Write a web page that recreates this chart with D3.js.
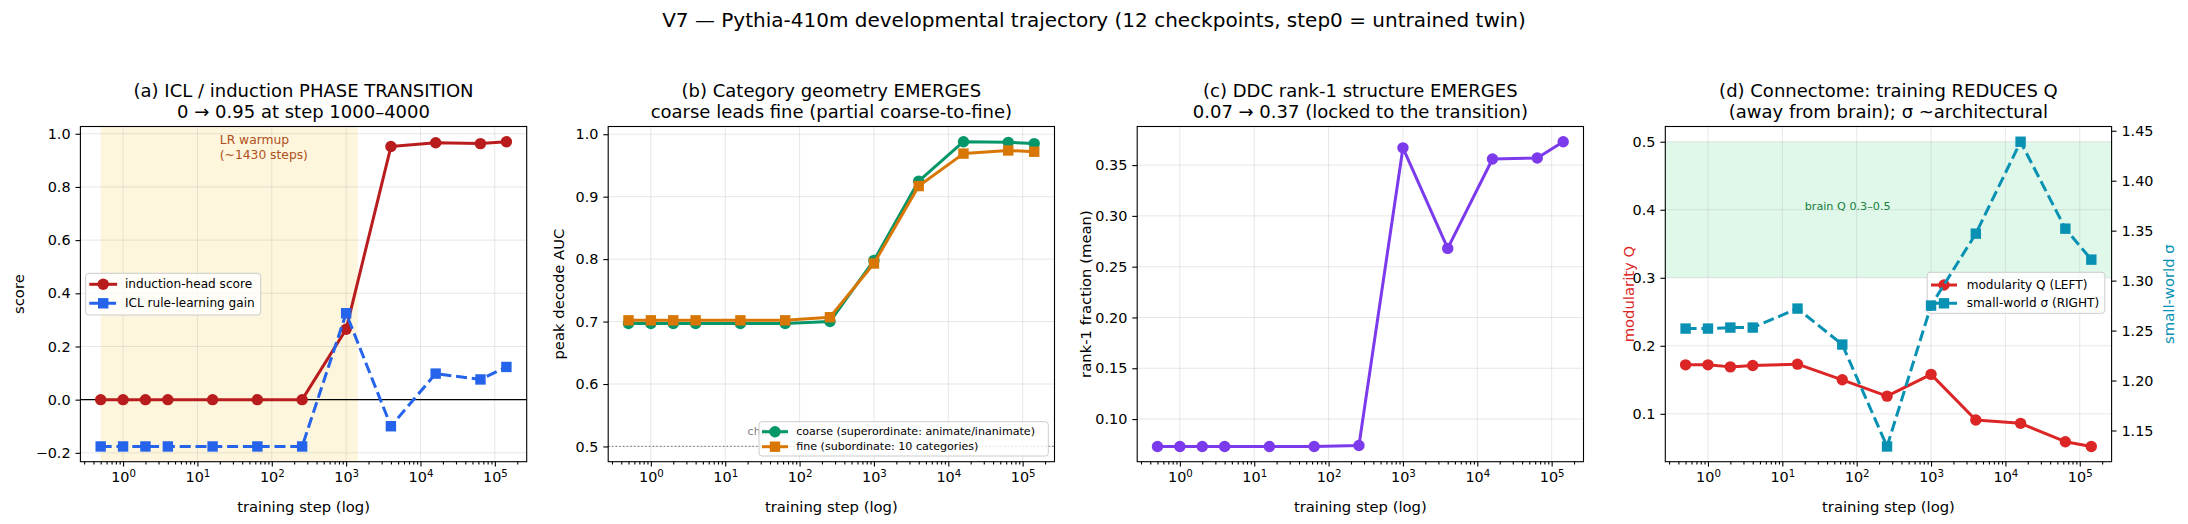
<!DOCTYPE html>
<html lang="en">
<head>
<meta charset="utf-8">
<title>Pythia-410m developmental trajectory</title>
<script src="https://d3js.org/d3.v7.min.js"></script>
<style>
  body { margin: 0; background: #fff; }
  svg text { font-family: "DejaVu Sans", sans-serif; fill: #000; }
  .axis path, .axis line { stroke: #000; stroke-width: 1.1; }
  .grid line { stroke: #b0b0b0; stroke-opacity: 0.3; stroke-width: 1; }
</style>
</head>
<body>
<div id="chart"></div>
<script>
// 12 checkpoints; step0 (untrained twin) plotted at 0.5 on the log axis
const steps = [0.5, 1, 2, 4, 16, 64, 256, 1000, 4000, 16000, 64000, 143000];

// (a) ICL / induction
const inductionScore = [0, 0, 0, 0, 0, 0, 0, 0.265, 0.952, 0.966, 0.963, 0.970];
const iclGain = [-0.176, -0.176, -0.176, -0.176, -0.176, -0.176, -0.176, 0.325, -0.100, 0.098, 0.076, 0.123];
const warmupSpan = [0.5, 1430];

// (b) category decoding
const coarseAUC = [0.697, 0.697, 0.697, 0.697, 0.697, 0.697, 0.700, 0.798, 0.925, 0.988, 0.987, 0.985];
const fineAUC = [0.702, 0.702, 0.702, 0.702, 0.702, 0.702, 0.707, 0.793, 0.917, 0.969, 0.974, 0.972];
const chanceAUC = 0.5;

// (c) DDC rank-1
const rank1Frac = [0.073, 0.073, 0.073, 0.073, 0.073, 0.073, 0.074, 0.367, 0.268, 0.356, 0.357, 0.373];

// (d) connectome
const modularityQ = [0.172, 0.172, 0.169, 0.171, 0.173, 0.150, 0.126, 0.158, 0.091, 0.086, 0.059, 0.052];
const smallWorld = [1.252, 1.252, 1.253, 1.253, 1.272, 1.236, 1.134, 1.275, 1.347, 1.439, 1.352, 1.321];
const brainQ = [0.3, 0.5];

const width = 2188, height = 524;
const plotTop = 126.5, plotBottom = 461.7, pw = 446.3;
const lefts = [80.4, 608.2, 1137.2, 1665.3];
const ylabelX = [18, 558, 1085, 1628];
const tickFs = "14.4px", labelFs = "14.8px", titleFs = "18px";

const svg = d3.select("#chart").append("svg")
    .attr("width", width)
    .attr("height", height);

svg.append("text")
    .attr("x", 1094).attr("y", 20)
    .attr("dominant-baseline", "central")
    .attr("text-anchor", "middle")
    .style("font-size", "20px")
    .text("V7 \u2014 Pythia-410m developmental trajectory (12 checkpoints, step0 = untrained twin)");

// matplotlib-like 5% margins
function padded(lo, hi) {
  const p = (hi - lo) * 0.05;
  return [lo - p, hi + p];
}
const lx = d3.extent(steps).map(Math.log10);
const xdom = padded(lx[0], lx[1]).map(v => Math.pow(10, v));

function makePanel(i, ydomain, yfmt, title1, title2, ylabel) {
  const left = lefts[i];
  const g = svg.append("g");
  const x = d3.scaleLog().domain(xdom).range([left, left + pw]);
  const y = d3.scaleLinear().domain(ydomain).range([plotBottom, plotTop]);

  const majors = d3.range(-1, 7).map(k => Math.pow(10, k)).filter(v => v >= xdom[0] && v <= xdom[1]);
  const minors = [];
  for (let k = -1; k <= 6; k++)
    for (let j = 2; j <= 9; j++) {
      const v = j * Math.pow(10, k);
      if (v >= xdom[0] && v <= xdom[1]) minors.push(v);
    }
  const yt = y.ticks(6);

  const back = g.append("g");

  // grid
  const grid = g.append("g").attr("class", "grid");
  grid.selectAll(".gx").data(majors).join("line")
      .attr("x1", d => x(d)).attr("x2", d => x(d))
      .attr("y1", plotTop).attr("y2", plotBottom);
  grid.selectAll(".gy").data(yt).join("line")
      .attr("x1", left).attr("x2", left + pw)
      .attr("y1", d => y(d)).attr("y2", d => y(d));

  const layer = g.append("g");

  function finish() {
    g.append("rect")
        .attr("x", left).attr("y", plotTop)
        .attr("width", pw).attr("height", plotBottom - plotTop)
        .attr("fill", "none").attr("stroke", "#000").attr("stroke-width", 1.1);

    const xa = g.append("g").attr("class", "axis")
        .attr("transform", `translate(0,${plotBottom})`)
        .call(d3.axisBottom(x).tickValues(majors).tickSize(4.9).tickSizeOuter(0).tickPadding(4.9));
    xa.select(".domain").remove();
    xa.selectAll(".tick text").text(null).style("font-size", tickFs)
      .each(function(d) {
        const t = d3.select(this);
        t.append("tspan").text("10");
        t.append("tspan").attr("dy", "-0.45em").style("font-size", "10.2px").text(Math.round(Math.log10(d)));
      });
    const xm = g.append("g").attr("class", "axis")
        .attr("transform", `translate(0,${plotBottom})`)
        .call(d3.axisBottom(x).tickValues(minors).tickSize(2.8).tickSizeOuter(0).tickFormat(""));
    xm.select(".domain").remove();
    xm.selectAll("line").attr("stroke-width", 0.8);

    const ya = g.append("g").attr("class", "axis")
        .attr("transform", `translate(${left},0)`)
        .call(d3.axisLeft(y).tickValues(yt).tickFormat(yfmt).tickSize(4.9).tickSizeOuter(0).tickPadding(4.9));
    ya.select(".domain").remove();
    ya.selectAll(".tick text").style("font-size", tickFs);

    g.append("text")
        .attr("x", left + pw / 2).attr("y", 506)
        .attr("text-anchor", "middle").attr("dominant-baseline", "central")
        .style("font-size", labelFs)
        .text("training step (log)");

    g.append("text")
        .attr("x", left + pw / 2).attr("y", 90)
        .attr("text-anchor", "middle").attr("dominant-baseline", "central")
        .style("font-size", titleFs).text(title1);
    g.append("text")
        .attr("x", left + pw / 2).attr("y", 111)
        .attr("text-anchor", "middle").attr("dominant-baseline", "central")
        .style("font-size", titleFs).text(title2);
  }

  const lab = g.append("text")
      .attr("transform", `translate(${ylabelX[i]},${(plotTop + plotBottom) / 2}) rotate(-90)`)
      .attr("text-anchor", "middle").attr("dominant-baseline", "central")
      .style("font-size", labelFs)
      .text(ylabel);

  return {g, back, layer, x, y, finish, lab};
}

function drawSeries(layer, x, y, vals, color, marker, dash) {
  const line = d3.line().x((d, i) => x(steps[i])).y(d => y(d));
  layer.append("path")
      .datum(vals)
      .attr("d", line)
      .attr("fill", "none")
      .attr("stroke", color)
      .attr("stroke-width", 3)
      .attr("stroke-dasharray", dash ? "11,4.8" : null)
      .attr("stroke-linejoin", "round");
  if (marker === "o") {
    layer.selectAll(null).data(vals).join("circle")
        .attr("cx", (d, i) => x(steps[i])).attr("cy", d => y(d))
        .attr("r", 5.7).attr("fill", color);
  } else {
    layer.selectAll(null).data(vals).join("rect")
        .attr("x", (d, i) => x(steps[i]) - 5.2).attr("y", d => y(d) - 5.2)
        .attr("width", 10.4).attr("height", 10.4).attr("fill", color);
  }
}

function legend(parent, bx, by, bw, bh, rows, fs, rowY, hx1, hx2, tx) {
  const lg = parent.append("g");
  lg.append("rect")
      .attr("x", bx).attr("y", by).attr("width", bw).attr("height", bh)
      .attr("rx", 3).attr("fill", "#fff").attr("fill-opacity", 0.8)
      .attr("stroke", "#cccccc").attr("stroke-width", 1);
  rows.forEach((r, i) => {
    const yy = rowY[i];
    lg.append("line")
        .attr("x1", hx1).attr("x2", hx2).attr("y1", yy).attr("y2", yy)
        .attr("stroke", r.color).attr("stroke-width", 3)
        .attr("stroke-dasharray", r.dash ? "11,4.8" : null);
    const cx = (hx1 + hx2) / 2;
    if (r.marker === "o")
      lg.append("circle").attr("cx", cx).attr("cy", yy).attr("r", 5.7).attr("fill", r.color);
    else
      lg.append("rect").attr("x", cx - 5.2).attr("y", yy - 5.2).attr("width", 10.4).attr("height", 10.4).attr("fill", r.color);
    lg.append("text")
        .attr("x", tx).attr("y", yy)
        .attr("dominant-baseline", "central")
        .style("font-size", fs + "px")
        .text(r.label);
  });
  return lg;
}

const f1 = d3.format(".1f"), f2 = d3.format(".2f");

// ---------- (a)
{
  const ext = d3.extent(inductionScore.concat(iclGain));
  const p = makePanel(0, padded(ext[0], ext[1]), f1,
      "(a) ICL / induction PHASE TRANSITION", "0 \u2192 0.95 at step 1000\u20134000", "score");
  p.back.append("rect")
      .attr("x", p.x(warmupSpan[0])).attr("y", plotTop)
      .attr("width", p.x(warmupSpan[1]) - p.x(warmupSpan[0]))
      .attr("height", plotBottom - plotTop)
      .attr("fill", "#fdf5dc");
  p.layer.append("line")
      .attr("x1", lefts[0]).attr("x2", lefts[0] + pw)
      .attr("y1", p.y(0)).attr("y2", p.y(0))
      .attr("stroke", "#000").attr("stroke-width", 1.1);
  const ann = p.layer.append("text")
      .attr("x", p.x(20)).attr("y", p.y(0.975))
      .attr("dominant-baseline", "central")
      .style("font-size", "12.3px").style("fill", "#b0501a");
  ann.append("tspan").text("LR warmup");
  ann.append("tspan").attr("x", p.x(20)).attr("dy", "15").text("(~1430 steps)");
  drawSeries(p.layer, p.x, p.y, inductionScore, "#b91c1c", "o", false);
  drawSeries(p.layer, p.x, p.y, iclGain, "#2563eb", "s", true);
  legend(p.g, 85.7, 273.3, 175, 41.7, [
    {color: "#b91c1c", marker: "o", dash: false, label: "induction-head score"},
    {color: "#2563eb", marker: "s", dash: true, label: "ICL rule-learning gain"}
  ], 12.1, [284.3, 303.3], 89.3, 117.1, 125);
  p.finish();
}

// ---------- (b)
{
  const ext = d3.extent(coarseAUC.concat(fineAUC, [chanceAUC]));
  const p = makePanel(1, padded(ext[0], ext[1]), f1,
      "(b) Category geometry EMERGES", "coarse leads fine (partial coarse-to-fine)", "peak decode AUC");
  p.layer.append("line")
      .attr("x1", lefts[1]).attr("x2", lefts[1] + pw)
      .attr("y1", p.y(chanceAUC)).attr("y2", p.y(chanceAUC))
      .attr("stroke", "#808080").attr("stroke-width", 1.3).attr("stroke-dasharray", "1.4,2.3");
  p.layer.append("text")
      .attr("x", p.x(20)).attr("y", p.y(0.524))
      .attr("dominant-baseline", "central")
      .style("font-size", "11px").style("fill", "#808080").text("chance");
  drawSeries(p.layer, p.x, p.y, coarseAUC, "#059669", "o", false);
  drawSeries(p.layer, p.x, p.y, fineAUC, "#d97706", "s", false);
  legend(p.g, 759, 421.7, 289.3, 34.3, [
    {color: "#059669", marker: "o", dash: false, label: "coarse (superordinate: animate/inanimate)"},
    {color: "#d97706", marker: "s", dash: false, label: "fine (subordinate: 10 categories)"}
  ], 11.1, [431.7, 446.7], 762, 788, 796.2);
  p.finish();
}

// ---------- (c)
{
  const ext = d3.extent(rank1Frac);
  const p = makePanel(2, padded(ext[0], ext[1]), f2,
      "(c) DDC rank-1 structure EMERGES", "0.07 \u2192 0.37 (locked to the transition)", "rank-1 fraction (mean)");
  drawSeries(p.layer, p.x, p.y, rank1Frac, "#7c3aed", "o", false);
  p.finish();
}

// ---------- (d)
{
  const ext = d3.extent(modularityQ.concat(brainQ));
  const p = makePanel(3, padded(ext[0], ext[1]), f1,
      "(d) Connectome: training REDUCES Q", "(away from brain); \u03c3 ~architectural", "modularity Q");
  p.lab.style("fill", "#dc2626");
  p.back.append("rect")
      .attr("x", lefts[3]).attr("y", p.y(brainQ[1]))
      .attr("width", pw).attr("height", p.y(brainQ[0]) - p.y(brainQ[1]))
      .attr("fill", "#e0f8ea");
  p.layer.append("text")
      .attr("x", p.x(20)).attr("y", p.y(0.405))
      .attr("dominant-baseline", "central")
      .style("font-size", "11.2px").style("fill", "#16803c").text("brain Q 0.3\u20130.5");
  drawSeries(p.layer, p.x, p.y, modularityQ, "#dc2626", "o", false);

  const se = d3.extent(smallWorld);
  const y2 = d3.scaleLinear().domain(padded(se[0], se[1])).range([plotBottom, plotTop]);
  legend(p.g, 1927.2, 272.3, 177.6, 41, [
    {color: "#dc2626", marker: "o", dash: false, label: "modularity Q (LEFT)"},
    {color: "#0891b2", marker: "s", dash: true, label: "small-world \u03c3 (RIGHT)"}
  ], 12.1, [285, 303.3], 1931, 1957, 1966.7);
  const over = p.g.append("g");
  drawSeries(over, p.x, y2, smallWorld, "#0891b2", "s", true);
  p.finish();

  const ya2 = p.g.append("g").attr("class", "axis")
      .attr("transform", `translate(${lefts[3] + pw},0)`)
      .call(d3.axisRight(y2).ticks(6).tickFormat(f2).tickSize(4.9).tickSizeOuter(0).tickPadding(4.9));
  ya2.select(".domain").remove();
  ya2.selectAll(".tick text").style("font-size", tickFs);
  p.g.append("text")
      .attr("transform", `translate(2168,${(plotTop + plotBottom) / 2}) rotate(-90)`)
      .attr("text-anchor", "middle").attr("dominant-baseline", "central")
      .style("font-size", labelFs).style("fill", "#0891b2")
      .text("small-world \u03c3");
}
</script>
</body>
</html>
